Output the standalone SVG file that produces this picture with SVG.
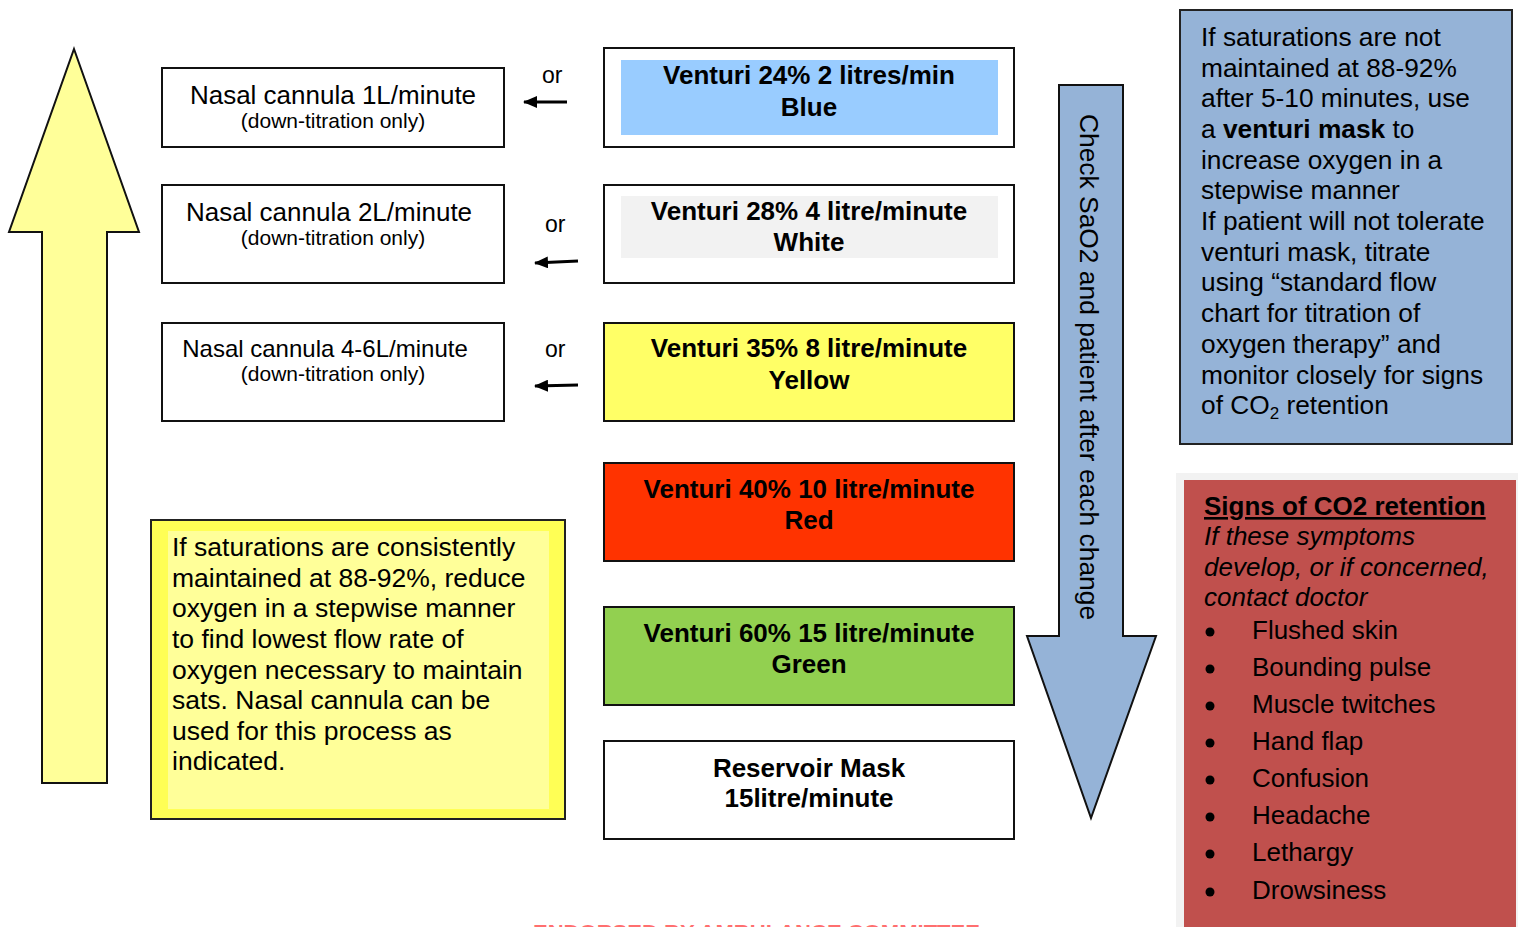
<svg xmlns="http://www.w3.org/2000/svg" width="1518" height="927" viewBox="0 0 1518 927">
<style>
text{font-family:"Liberation Sans",Arial,sans-serif;fill:#000}
.box{stroke:#111;stroke-width:2}
.t26{font-size:26px}
.b26{font-size:26px;font-weight:bold}
.sub{font-size:21px}
.c{text-anchor:middle}
.or{font-size:23px}
</style>
<defs>
<marker id="ah" viewBox="0 0 14 12" markerWidth="14" markerHeight="12" refX="13" refY="6" orient="auto" markerUnits="userSpaceOnUse">
<path d="M0,0 L14,6 L0,12 Z" fill="#000"/>
</marker>
</defs>
<rect width="1518" height="927" fill="#fff"/>

<g id="up-arrow">
<polygon points="74,49 139,232 107,232 107,783 42,783 42,232 9,232" fill="#FFFF99" stroke="#111" stroke-width="2"/>
</g>

<g id="nasal1">
<rect class="box" x="162" y="68" width="342" height="79" fill="#fff"/>
<text class="t26 c" x="333" y="104">Nasal cannula 1L/minute</text>
<text class="sub c" x="333" y="128">(down-titration only)</text>
</g>
<g id="nasal2">
<rect class="box" x="162" y="185" width="342" height="98" fill="#fff"/>
<text class="t26 c" x="329" y="221">Nasal cannula 2L/minute</text>
<text class="sub c" x="333" y="245">(down-titration only)</text>
</g>
<g id="nasal3">
<rect class="box" x="162" y="323" width="342" height="98" fill="#fff"/>
<text class="c" x="325" y="357" font-size="24">Nasal cannula 4-6L/minute</text>
<text class="sub c" x="333" y="381">(down-titration only)</text>
</g>

<g id="connectors" stroke="#000" stroke-width="3" fill="none">
<line x1="567" y1="102" x2="524" y2="102" marker-end="url(#ah)"/>
<line x1="578" y1="261" x2="535" y2="263" marker-end="url(#ah)"/>
<line x1="578" y1="385" x2="535" y2="386" marker-end="url(#ah)"/>
</g>
<g id="or-labels">
<text class="or" x="542" y="83">or</text>
<text class="or" x="545" y="232">or</text>
<text class="or" x="545" y="357">or</text>
</g>

<g id="venturi24">
<rect class="box" x="604" y="48" width="410" height="99" fill="#fff"/>
<rect x="621" y="60" width="377" height="75" fill="#99CCFF"/>
<text class="b26 c" x="809" y="84">Venturi 24% 2 litres/min</text>
<text class="b26 c" x="809" y="116">Blue</text>
</g>
<g id="venturi28">
<rect class="box" x="604" y="185" width="410" height="98" fill="#fff"/>
<rect x="621" y="196" width="377" height="62" fill="#F2F2F2"/>
<text class="b26 c" x="809" y="220">Venturi 28% 4 litre/minute</text>
<text class="b26 c" x="809" y="251">White</text>
</g>
<g id="venturi35">
<rect class="box" x="604" y="323" width="410" height="98" fill="#FFFF66"/>
<text class="b26 c" x="809" y="357">Venturi 35% 8 litre/minute</text>
<text class="b26 c" x="809" y="389">Yellow</text>
</g>
<g id="venturi40">
<rect class="box" x="604" y="463" width="410" height="98" fill="#FF3300"/>
<text class="b26 c" x="809" y="498">Venturi 40% 10 litre/minute</text>
<text class="b26 c" x="809" y="529">Red</text>
</g>
<g id="venturi60">
<rect class="box" x="604" y="607" width="410" height="98" fill="#92D050"/>
<text class="b26 c" x="809" y="642">Venturi 60% 15 litre/minute</text>
<text class="b26 c" x="809" y="673">Green</text>
</g>
<g id="reservoir">
<rect class="box" x="604" y="741" width="410" height="98" fill="#fff"/>
<text class="b26 c" x="809" y="777">Reservoir Mask</text>
<text class="b26 c" x="809" y="807">15litre/minute</text>
</g>

<g id="down-arrow">
<polygon points="1059,85 1123,85 1123,636 1156,636 1091,818 1027,636 1059,636" fill="#95B3D7" stroke="#111" stroke-width="2"/>
<text class="c" font-size="26.4" transform="translate(1080,367) rotate(90)" x="0" y="0">Check SaO2 and patient after each change</text>
</g>

<g id="escalate-note">
<rect x="1180" y="10" width="332" height="434" fill="#95B3D7" stroke="#222" stroke-width="2"/>
<text font-size="26.3" x="1201">
<tspan x="1201" y="46">If saturations are not</tspan>
<tspan x="1201" y="77">maintained at 88-92%</tspan>
<tspan x="1201" y="107">after 5-10 minutes, use</tspan>
<tspan x="1201" y="138">a <tspan font-weight="bold">venturi mask</tspan> to</tspan>
<tspan x="1201" y="169">increase oxygen in a</tspan>
<tspan x="1201" y="199">stepwise manner</tspan>
<tspan x="1201" y="230">If patient will not tolerate</tspan>
<tspan x="1201" y="261">venturi mask, titrate</tspan>
<tspan x="1201" y="291">using “standard flow</tspan>
<tspan x="1201" y="322">chart for titration of</tspan>
<tspan x="1201" y="353">oxygen therapy” and</tspan>
<tspan x="1201" y="384">monitor closely for signs</tspan>
<tspan x="1201" y="414">of CO<tspan font-size="17" dy="5">2</tspan><tspan dy="-5"> retention</tspan></tspan>
</text>
</g>

<g id="reduce-note">
<rect x="151" y="520" width="414" height="299" fill="#FFFF55" stroke="#222" stroke-width="2"/>
<rect x="168" y="531" width="381" height="278" fill="#FFFF99"/>
<text font-size="26.5">
<tspan x="172" y="556">If saturations are consistently</tspan>
<tspan x="172" y="587">maintained at 88-92%, reduce</tspan>
<tspan x="172" y="617">oxygen in a stepwise manner</tspan>
<tspan x="172" y="648">to find lowest flow rate of</tspan>
<tspan x="172" y="679">oxygen necessary to maintain</tspan>
<tspan x="172" y="709">sats. Nasal cannula can be</tspan>
<tspan x="172" y="740">used for this process as</tspan>
<tspan x="172" y="770">indicated.</tspan>
</text>
</g>

<g id="co2-signs">
<rect x="1176" y="473" width="342" height="454" fill="#F2F2F2"/>
<rect x="1184" y="480" width="332" height="447" fill="#C0504D"/>
<text class="b26" x="1204" y="515" text-decoration="underline">Signs of CO2 retention</text>
<text class="t26" font-style="italic">
<tspan x="1204" y="545">If these symptoms</tspan>
<tspan x="1204" y="576">develop, or if concerned,</tspan>
<tspan x="1204" y="606">contact doctor</tspan>
</text>
<g fill="#000">
<circle cx="1210" cy="632" r="4.5"/>
<circle cx="1210" cy="669" r="4.5"/>
<circle cx="1210" cy="706" r="4.5"/>
<circle cx="1210" cy="743" r="4.5"/>
<circle cx="1210" cy="780" r="4.5"/>
<circle cx="1210" cy="817" r="4.5"/>
<circle cx="1210" cy="854" r="4.5"/>
<circle cx="1210" cy="892" r="4.5"/>
</g>
<text class="t26">
<tspan x="1252" y="639">Flushed skin</tspan>
<tspan x="1252" y="676">Bounding pulse</tspan>
<tspan x="1252" y="713">Muscle twitches</tspan>
<tspan x="1252" y="750">Hand flap</tspan>
<tspan x="1252" y="787">Confusion</tspan>
<tspan x="1252" y="824">Headache</tspan>
<tspan x="1252" y="861">Lethargy</tspan>
<tspan x="1252" y="899">Drowsiness</tspan>
</text>
</g>

<g id="footer">
<text x="533" y="938" font-size="18" font-weight="bold" style="fill:#FF3333" opacity="0.7" textLength="447" lengthAdjust="spacingAndGlyphs">ENDORSED BY AMBULANCE COMMITTEE</text>
</g>
</svg>
